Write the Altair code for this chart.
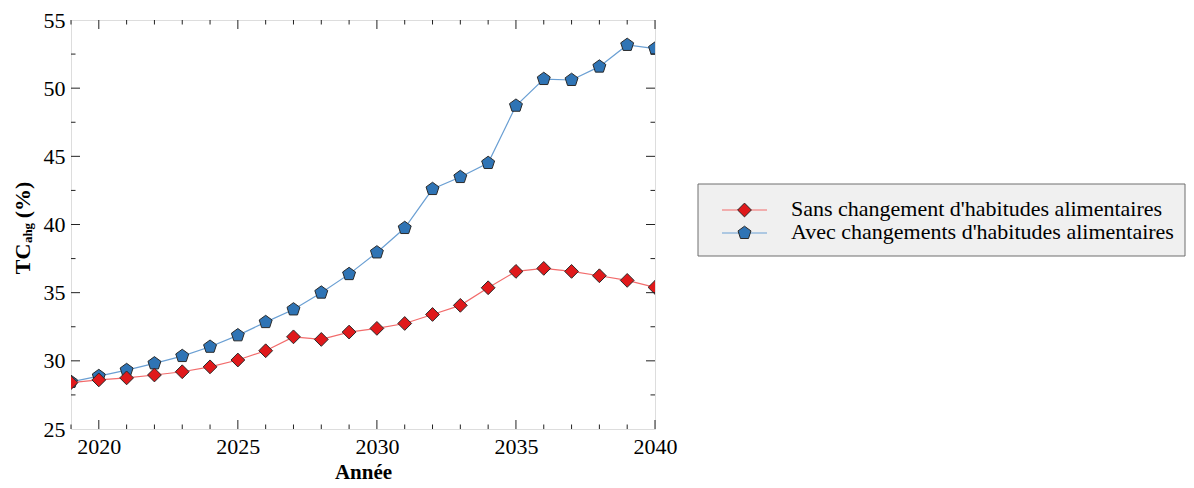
import altair as alt
import pandas as pd

years = list(range(2019, 2041))
sans = [28.4, 28.6, 28.75, 28.96, 29.2, 29.56, 30.06, 30.74, 31.76, 31.57, 32.11,
        32.38, 32.74, 33.4, 34.07, 35.36, 36.56, 36.78, 36.56, 36.24, 35.9, 35.39]
avec = [28.45, 28.88, 29.32, 29.81, 30.35, 31.03, 31.87, 32.84, 33.77, 35.0, 36.36,
        37.95, 39.74, 42.6, 43.48, 44.51, 48.71, 50.67, 50.6, 51.58, 53.17, 52.9]

series_names = ["Sans changement d'habitudes alimentaires",
                "Avec changements d'habitudes alimentaires"]
x_major = [2020, 2025, 2030, 2035, 2040]
x_minor = [y for y in years if y not in x_major]
y_major = [30, 35, 40, 45, 50]
y_minor = [27.5, 32.5, 37.5, 42.5, 47.5, 52.5]

FONT = "Liberation Serif"
W, H = 584, 409
PENTAGON = "M0,-1L0.951,-0.309L0.588,0.809L-0.588,0.809L-0.951,-0.309Z"
RED_FILL, RED_LINE = "#e0191b", "#f26b6b"
BLUE_FILL, BLUE_LINE = "#2f74b5", "#6a9fd3"
DIAMOND_SIZE, PENT_SIZE = 190, 185

df_sans = pd.DataFrame({"year": years, "value": sans})
df_avec = pd.DataFrame({"year": years, "value": avec})

xscale = alt.Scale(domain=[2019, 2040], nice=False, zero=False)
yscale = alt.Scale(domain=[25, 55], nice=False, zero=False)

X = alt.X("year:Q", scale=xscale,
          axis=alt.Axis(values=x_major, format="d", title="Année", labelFontSize=22,
                        labelFont=FONT, labelColor="black", titleFont=FONT,
                        titleFontSize=21, titleFontWeight="bold", titleColor="black",
                        labelPadding=7, titlePadding=4, domain=False, ticks=False,
                        grid=False, labelFlush=False))
Y = alt.Y("value:Q", scale=yscale,
          axis=alt.Axis(values=[25, 30, 35, 40, 45, 50, 55], title=None, labelFontSize=22,
                        labelFont=FONT, labelColor="black", labelPadding=6,
                        domain=False, ticks=False, grid=False, labelFlush=False))

def series(df, line_color, fill, shape, size):
    base = alt.Chart(df)
    line = base.mark_line(color=line_color, strokeWidth=1.2, clip=True).encode(x=X, y=Y)
    pts = base.mark_point(filled=True, fill=fill, stroke="#2a2a2a", strokeWidth=1,
                          size=size, opacity=1, shape=shape, clip=True).encode(x=X, y=Y)
    return [line, pts]

# ticks (inward, on all four sides)
def xticks(vals, length):
    d = pd.DataFrame({"year": vals})
    b = alt.Chart(d).mark_rule(color="#222", strokeWidth=1)
    return [b.encode(x=alt.X("year:Q", scale=xscale), y=alt.value(H), y2=alt.value(H - length)),
            b.encode(x=alt.X("year:Q", scale=xscale), y=alt.value(0), y2=alt.value(length))]

def yticks(vals, length):
    d = pd.DataFrame({"value": vals})
    b = alt.Chart(d).mark_rule(color="#222", strokeWidth=1)
    return [b.encode(y=alt.Y("value:Q", scale=yscale), x=alt.value(0), x2=alt.value(length)),
            b.encode(y=alt.Y("value:Q", scale=yscale), x=alt.value(W), x2=alt.value(W - length))]

ticks = xticks(x_major, 9) + xticks(x_minor, 4.5) + yticks(y_major, 9) + yticks(y_minor, 4.5)

# Y title with subscript
one = pd.DataFrame({"a": [0]})
yt = alt.Chart(one)
ytitle = [
    yt.mark_text(text="TC", font=FONT, fontSize=22, fontWeight="bold", angle=270,
                 align="center", baseline="alphabetic", color="black")
      .encode(x=alt.value(-41), y=alt.value(239)),
    yt.mark_text(text="ahg", font=FONT, fontSize=13, fontWeight="bold", angle=270,
                 align="center", baseline="alphabetic", color="black")
      .encode(x=alt.value(-39.5), y=alt.value(213)),
    yt.mark_text(text="(%)", font=FONT, fontSize=22, fontWeight="bold", angle=270,
                 align="center", baseline="alphabetic", color="black")
      .encode(x=alt.value(-41.5), y=alt.value(180)),
]

# Legend
LX0, LX1, LY0, LY1 = 627, 1114, 164, 236
legend = [
    yt.mark_rect(fill="#f0f0f0", stroke="#6e6e6e", strokeWidth=1)
      .encode(x=alt.value(LX0), x2=alt.value(LX1), y=alt.value(LY0), y2=alt.value(LY1)),
    yt.mark_rule(color=RED_LINE, strokeWidth=1.2)
      .encode(x=alt.value(651), x2=alt.value(696), y=alt.value(190)),
    yt.mark_rule(color=BLUE_LINE, strokeWidth=1.2)
      .encode(x=alt.value(651), x2=alt.value(696), y=alt.value(213)),
    yt.mark_point(filled=True, fill=RED_FILL, stroke="#2a2a2a",
                  strokeWidth=1, size=DIAMOND_SIZE, opacity=1, shape="diamond")
      .encode(x=alt.value(673.5), y=alt.value(190)),
    yt.mark_point(filled=True, fill=BLUE_FILL, stroke="#2a2a2a",
                  strokeWidth=1, size=PENT_SIZE, opacity=1, shape=PENTAGON)
      .encode(x=alt.value(673.5), y=alt.value(213)),
    yt.mark_text(text=series_names[0], font=FONT, fontSize=22,
                 align="left", baseline="middle", color="black")
      .encode(x=alt.value(720), y=alt.value(189)),
    yt.mark_text(text=series_names[1], font=FONT, fontSize=22,
                 align="left", baseline="middle", color="black")
      .encode(x=alt.value(720), y=alt.value(212)),
]

layers = (series(df_avec, BLUE_LINE, BLUE_FILL, PENTAGON, PENT_SIZE)
          + series(df_sans, RED_LINE, RED_FILL, "diamond", DIAMOND_SIZE)
          + ticks + ytitle + legend)

chart = alt.layer(*layers).properties(
    width=W, height=H,
    autosize=alt.AutoSizeParams(type="none"),
    padding={"left": 63, "top": 12, "right": 531, "bottom": 55},
).configure_view(stroke="#222", strokeWidth=1.2).configure(background="white")

chart.save("out.html", embed_options={"renderer": "svg", "actions": False})
